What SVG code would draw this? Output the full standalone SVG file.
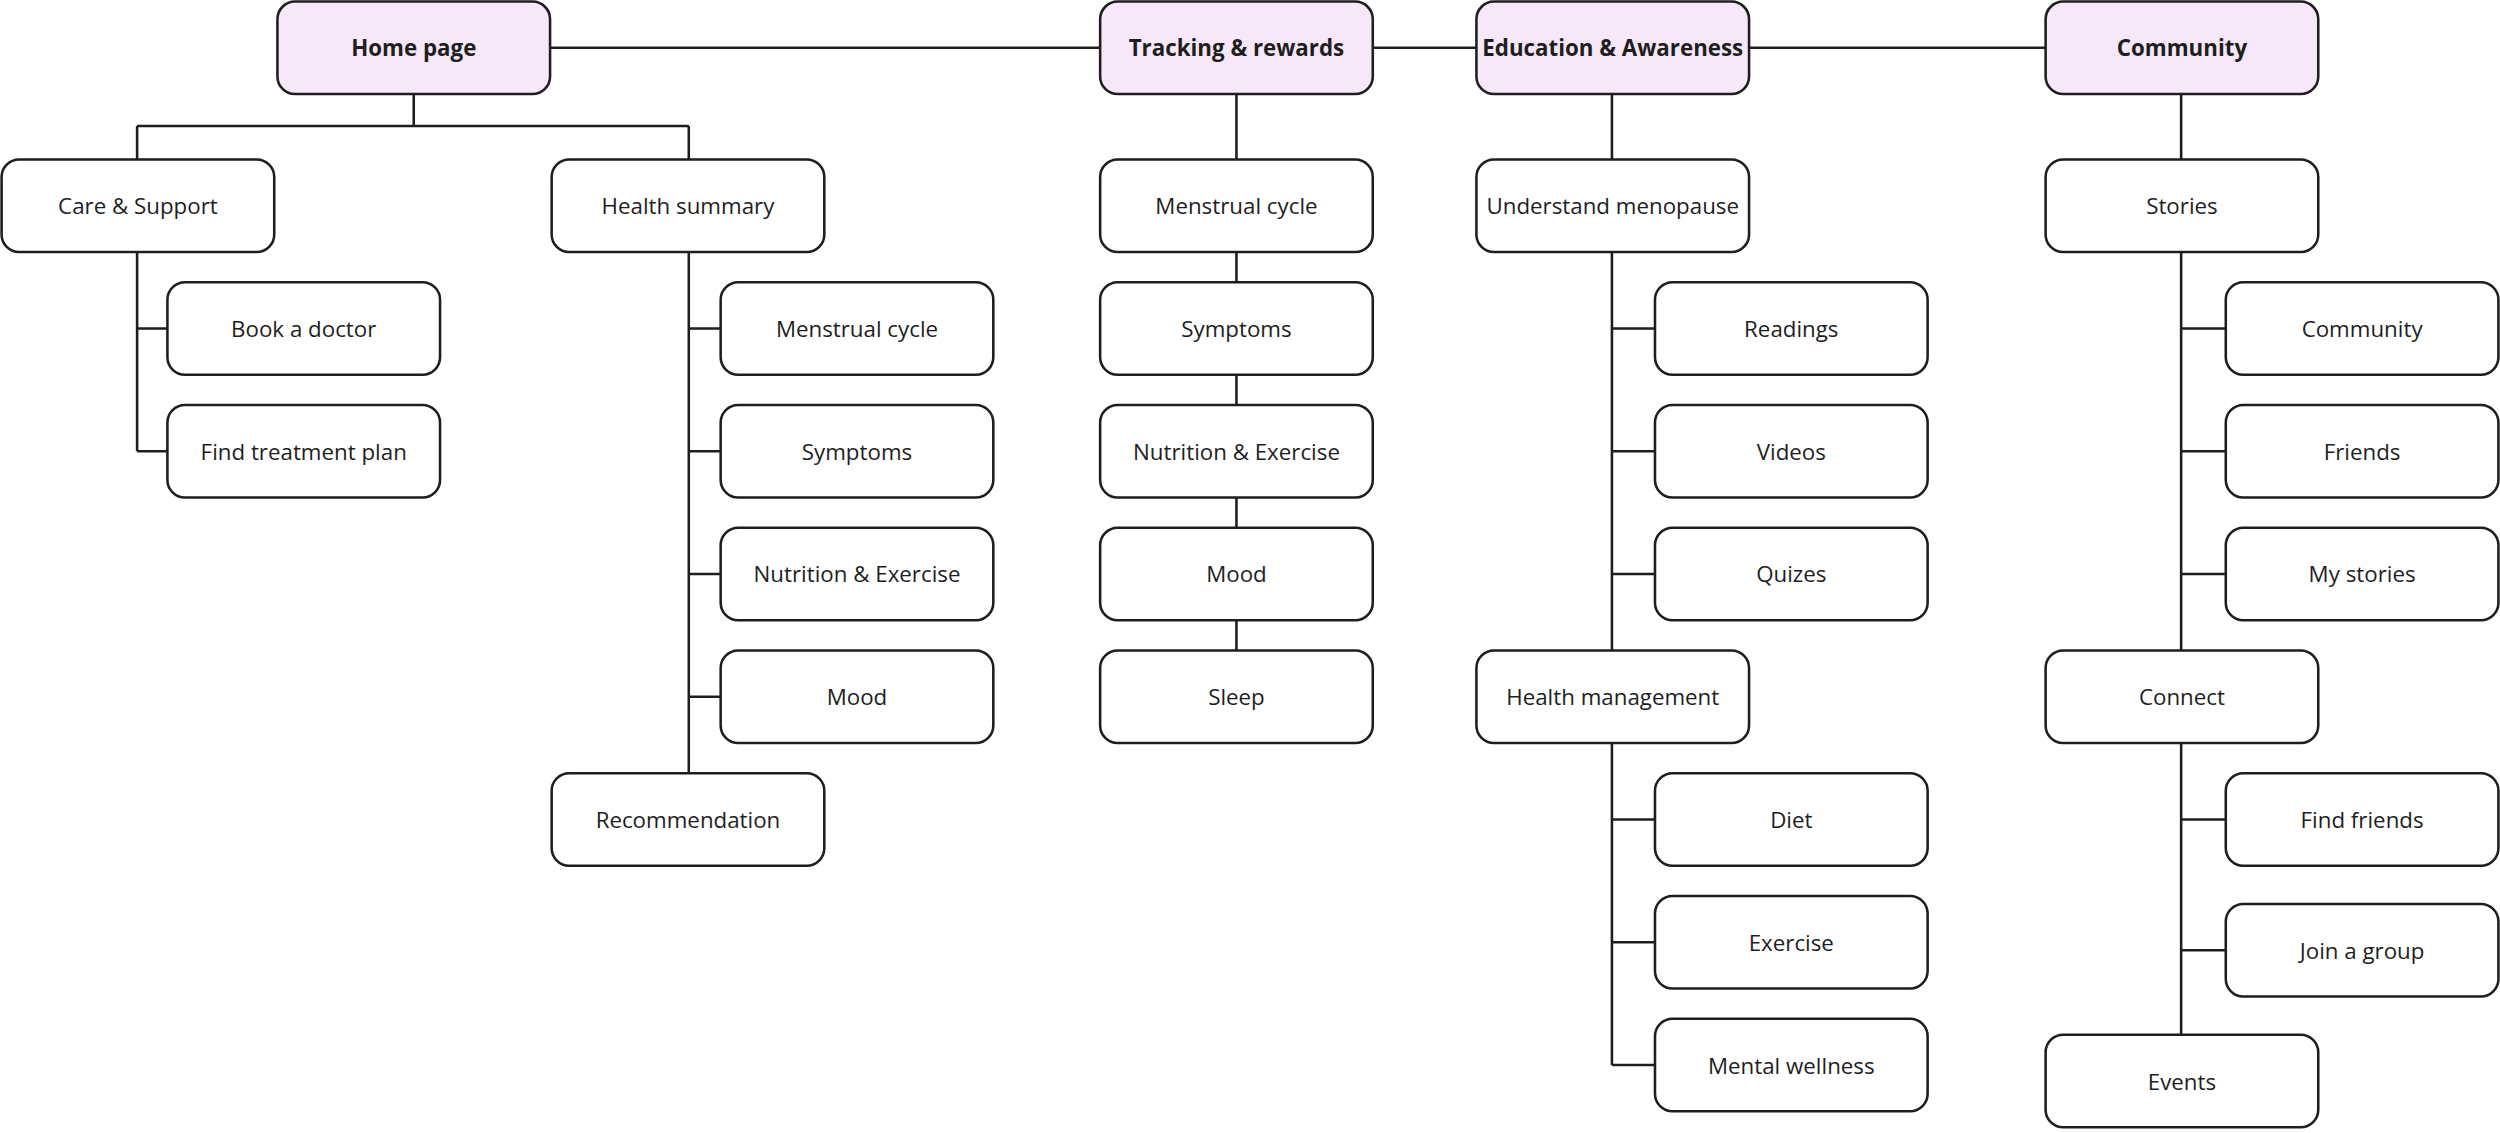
<svg xmlns="http://www.w3.org/2000/svg" width="2500" height="1133" viewBox="0 0 2500 1133">
<style>
rect{fill:#fff;stroke:#1e1e1e;stroke-width:1.6}
.h rect{fill:#f6e8f8}
text{font-family:"Open Sans","Noto Sans",sans-serif;font-size:14px;fill:#1e1e1e;text-anchor:middle;dominant-baseline:central}
.h text{font-weight:bold}
#c path{fill:none;stroke:#1e1e1e;stroke-width:1.6}
</style>
<rect x="0" y="0" width="2500" height="1133" style="fill:#fff;stroke:none"/>
<g transform="scale(1.5944)">
<g id="c"><path d="M345 30H690M861 30H926M1097 30H1283M259.5 59V79M86 79H432M86 79V100M432 79V100M86 158V283M86 206H105M86 283H105M432 158V485M432 206H452M432 283H452M432 360H452M432 437H452M775.5 59V408M1011 59V408M1011 206H1038M1011 283H1038M1011 360H1038M1011 466V668M1011 514H1038M1011 591H1038M1011 668H1038M1368 59V649M1368 206H1396M1368 283H1396M1368 360H1396M1368 514H1396M1368 596H1396"/></g>
<g id="home" class="h"><rect x="174" y="1" width="171" height="58" rx="11"/><text x="259.5" y="30">Home page</text></g>
<g id="track" class="h"><rect x="690" y="1" width="171" height="58" rx="11"/><text x="775.5" y="30">Tracking &amp; rewards</text></g>
<g id="edu" class="h"><rect x="926" y="1" width="171" height="58" rx="11"/><text x="1011.5" y="30">Education &amp; Awareness</text></g>
<g id="comm" class="h"><rect x="1283" y="1" width="171" height="58" rx="11"/><text x="1368.5" y="30">Community</text></g>
<g id="care"><rect x="1" y="100" width="171" height="58" rx="11"/><text x="86.5" y="129">Care &amp; Support</text></g>
<g id="book"><rect x="105" y="177" width="171" height="58" rx="11"/><text x="190.5" y="206">Book a doctor</text></g>
<g id="treat"><rect x="105" y="254" width="171" height="58" rx="11"/><text x="190.5" y="283">Find treatment plan</text></g>
<g id="hs"><rect x="346" y="100" width="171" height="58" rx="11"/><text x="431.5" y="129">Health summary</text></g>
<g id="hs1"><rect x="452" y="177" width="171" height="58" rx="11"/><text x="537.5" y="206">Menstrual cycle</text></g>
<g id="hs2"><rect x="452" y="254" width="171" height="58" rx="11"/><text x="537.5" y="283">Symptoms</text></g>
<g id="hs3"><rect x="452" y="331" width="171" height="58" rx="11"/><text x="537.5" y="360">Nutrition &amp; Exercise</text></g>
<g id="hs4"><rect x="452" y="408" width="171" height="58" rx="11"/><text x="537.5" y="437">Mood</text></g>
<g id="rec"><rect x="346" y="485" width="171" height="58" rx="11"/><text x="431.5" y="514">Recommendation</text></g>
<g id="t1"><rect x="690" y="100" width="171" height="58" rx="11"/><text x="775.5" y="129">Menstrual cycle</text></g>
<g id="t2"><rect x="690" y="177" width="171" height="58" rx="11"/><text x="775.5" y="206">Symptoms</text></g>
<g id="t3"><rect x="690" y="254" width="171" height="58" rx="11"/><text x="775.5" y="283">Nutrition &amp; Exercise</text></g>
<g id="t4"><rect x="690" y="331" width="171" height="58" rx="11"/><text x="775.5" y="360">Mood</text></g>
<g id="t5"><rect x="690" y="408" width="171" height="58" rx="11"/><text x="775.5" y="437">Sleep</text></g>
<g id="um"><rect x="926" y="100" width="171" height="58" rx="11"/><text x="1011.5" y="129">Understand menopause</text></g>
<g id="e1"><rect x="1038" y="177" width="171" height="58" rx="11"/><text x="1123.5" y="206">Readings</text></g>
<g id="e2"><rect x="1038" y="254" width="171" height="58" rx="11"/><text x="1123.5" y="283">Videos</text></g>
<g id="e3"><rect x="1038" y="331" width="171" height="58" rx="11"/><text x="1123.5" y="360">Quizes</text></g>
<g id="hm"><rect x="926" y="408" width="171" height="58" rx="11"/><text x="1011.5" y="437">Health management</text></g>
<g id="e4"><rect x="1038" y="485" width="171" height="58" rx="11"/><text x="1123.5" y="514">Diet</text></g>
<g id="e5"><rect x="1038" y="562" width="171" height="58" rx="11"/><text x="1123.5" y="591">Exercise</text></g>
<g id="e6"><rect x="1038" y="639" width="171" height="58" rx="11"/><text x="1123.5" y="668">Mental wellness</text></g>
<g id="st"><rect x="1283" y="100" width="171" height="58" rx="11"/><text x="1368.5" y="129">Stories</text></g>
<g id="c1"><rect x="1396" y="177" width="171" height="58" rx="11"/><text x="1481.5" y="206">Community</text></g>
<g id="c2"><rect x="1396" y="254" width="171" height="58" rx="11"/><text x="1481.5" y="283">Friends</text></g>
<g id="c3"><rect x="1396" y="331" width="171" height="58" rx="11"/><text x="1481.5" y="360">My stories</text></g>
<g id="cn"><rect x="1283" y="408" width="171" height="58" rx="11"/><text x="1368.5" y="437">Connect</text></g>
<g id="c4"><rect x="1396" y="485" width="171" height="58" rx="11"/><text x="1481.5" y="514">Find friends</text></g>
<g id="c5"><rect x="1396" y="567" width="171" height="58" rx="11"/><text x="1481.5" y="596">Join a group</text></g>
<g id="ev"><rect x="1283" y="649" width="171" height="58" rx="11"/><text x="1368.5" y="678">Events</text></g>
</g>
</svg>
